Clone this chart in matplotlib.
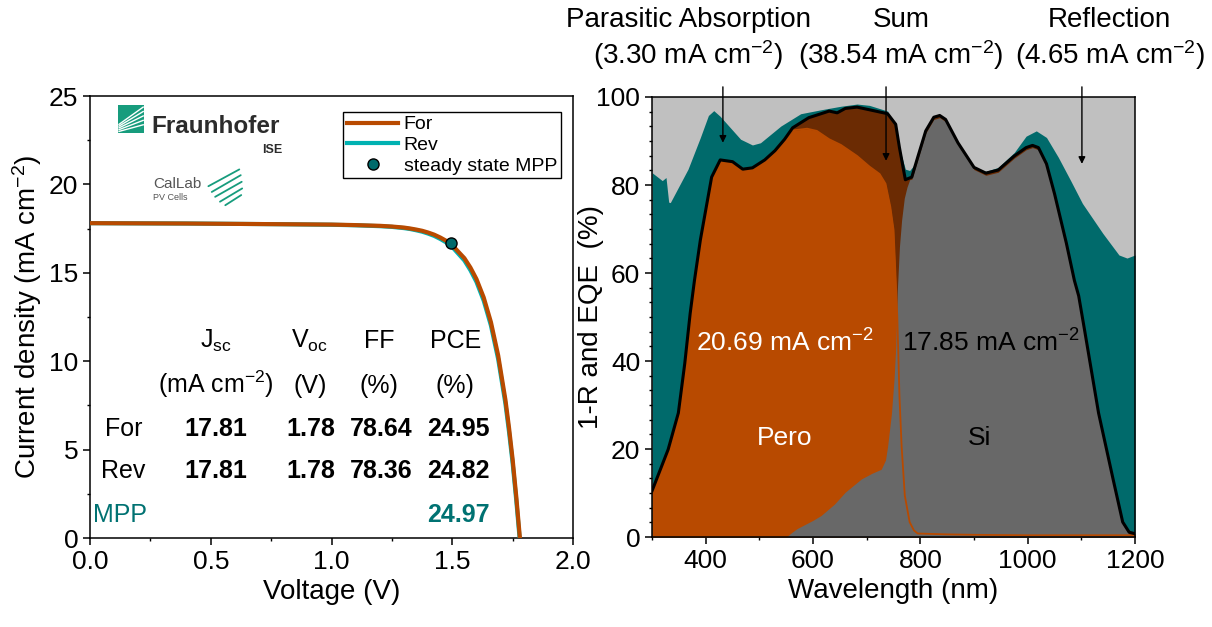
import matplotlib
matplotlib.use('Agg')
import matplotlib.pyplot as plt
from matplotlib.patches import Rectangle
from matplotlib.ticker import MultipleLocator, FormatStrFormatter

# J-V scans
volt = [0.0, 0.2, 0.4, 0.6, 0.8, 1.0, 1.1, 1.2, 1.25, 1.3, 1.325, 1.35, 1.375,
        1.4, 1.425, 1.45, 1.475, 1.5, 1.55, 1.575, 1.6, 1.63, 1.66, 1.69,
        1.72, 1.735, 1.75, 1.765, 1.78]
j_for = [17.81, 17.80, 17.79, 17.77, 17.75, 17.73, 17.70, 17.66, 17.62, 17.56,
         17.51, 17.45, 17.38, 17.28, 17.16, 17.00, 16.81, 16.56, 15.83, 15.30,
         14.65, 13.61, 12.21, 10.33, 7.82, 6.23, 4.43, 2.33, 0.0]
j_rev = [17.81, 17.80, 17.79, 17.77, 17.75, 17.72, 17.69, 17.64, 17.60, 17.53,
         17.48, 17.41, 17.33, 17.22, 17.09, 16.92, 16.72, 16.46, 15.70, 15.15,
         14.49, 13.43, 12.02, 10.12, 7.60, 6.00, 4.22, 2.12, -0.2]
mpp_v = [1.494]
mpp_j = [16.70]

# table
rows = ["For", "Rev"]
jsc = ["17.81", "17.81"]
voc = ["1.78", "1.78"]
ff = ["78.64", "78.36"]
pce = ["24.95", "24.82"]
pce_mpp = "24.97"

# EQE / reflection
wl_r = [300, 319, 326, 331, 334, 367, 390, 405, 415, 427, 465, 487, 502, 540,
        577, 615, 652, 682, 705, 739, 757, 772, 780, 795, 817, 832, 847, 870,
        900, 922, 945, 975, 997, 1016, 1035, 1057, 1080, 1102, 1140, 1170,
        1185, 1200]
one_minus_r = [82.8, 81.0, 81.7, 76.1, 76.0, 83.6, 90.8, 95.8, 96.9, 95.6,
               90.4, 89.1, 89.6, 93.4, 96.2, 97.1, 97.9, 98.4, 98.1, 96.8, 90.0,
               83.6, 83.3, 85.5, 93.0, 95.8, 94.9, 89.6, 84.0, 83.1, 84.0, 87.4,
               91.1, 92.3, 90.8, 86.3, 81.0, 75.8, 69.0, 64.1, 63.4, 64.1]

wl_sum = [300, 330, 349, 361, 371, 379, 390, 411, 427, 450, 469, 487, 510, 529,
          547, 562, 592, 630, 645, 660, 682, 705, 739, 754, 761, 772, 784, 795,
          810, 825, 836, 847, 870, 900, 922, 945, 975, 997, 1009, 1020, 1035,
          1050, 1072, 1087, 1095, 1106, 1132, 1159, 1177, 1189, 1200]
eqe_sum = [10.5, 19.9, 28.2, 39.5, 50.8, 58.3, 67.5, 81.8, 85.7, 85.3, 83.6,
           83.9, 85.7, 87.8, 90.4, 93.0, 95.3, 96.8, 96.4, 97.4, 97.7, 97.1,
           96.2, 93.8, 88.5, 81.2, 81.8, 86.3, 92.3, 95.4, 95.8, 94.9, 89.6,
           84.0, 82.7, 83.4, 86.6, 88.5, 89.0, 88.5, 84.8, 78.0, 66.8, 58.3,
           54.8, 47.0, 28.2, 13.2, 3.4, 1.1, 0.75]

wl_pero = [300, 330, 349, 361, 371, 379, 390, 411, 427, 450, 469, 487, 510,
           529, 547, 562, 589, 607, 630, 652, 682, 705, 724, 735, 744, 750,
           754, 757, 761, 765, 771, 780, 788, 795, 850, 900, 1000, 1100, 1200]
eqe_pero = [10.5, 19.9, 28.2, 39.5, 50.8, 58.3, 67.5, 81.8, 85.7, 85.3, 83.6,
            83.9, 85.7, 87.8, 90.4, 92.4, 92.8, 92.3, 90.4, 89.1, 86.6, 84.2,
            82.5, 80.3, 75.0, 69.8, 58.5, 50.0, 32.0, 20.7, 9.4, 3.4, 1.5, 0.8,
            0.6, 0.5, 0.4, 0.4, 0.4]

wl_si = [300, 550, 560, 570, 600, 615, 640, 660, 690, 710, 727, 735, 739, 746,
         751, 754, 757, 761, 765, 770, 775, 780, 784, 795, 810, 825, 836, 847,
         870, 900, 922, 945, 975, 997, 1009, 1020, 1035, 1050, 1072, 1087,
         1095, 1106, 1132, 1159, 1177, 1189, 1200]
eqe_si = [0.0, 0.0, 1.0, 1.9, 3.8, 4.9, 7.5, 10.2, 13.2, 14.5, 15.4, 17.5, 20.7,
          28.0, 36.0, 43.0, 56.0, 66.0, 72.0, 77.0, 79.5, 81.2, 81.3, 85.7,
          91.8, 94.9, 95.3, 94.4, 89.1, 83.5, 82.2, 82.9, 86.1, 88.0, 88.5,
          88.0, 84.3, 77.5, 66.3, 57.8, 54.3, 46.5, 27.7, 12.7, 2.9, 0.6, 0.3]

ORANGE = '#B84A00'
CYAN = '#00B2B2'
TEAL = '#006A6B'
BROWN = '#6B2B03'
SI_GRAY = '#686868'
R_GRAY = '#C0C0C0'
LOGO_GREEN = '#179C7D'


def style_axis(ax):
    for s in ax.spines.values():
        s.set_linewidth(1.1)
    ax.tick_params(which='major', direction='out', length=5, width=1.1,
                   top=False, right=False)
    ax.tick_params(which='minor', direction='out', length=2.5, width=1.0,
                   top=False, right=False)


def draw_logo(ax):
    ax.add_patch(Rectangle((0.058, 0.916), 0.054, 0.064, transform=ax.transAxes,
                           facecolor=LOGO_GREEN, edgecolor='none', zorder=5))
    for k in range(5):
        ax.plot([0.060, 0.110], [0.920 + 0.004 * k, 0.935 + 0.010 * k],
                color='white', lw=1.0, transform=ax.transAxes, zorder=6)
    ax.text(0.128, 0.916, "Fraunhofer", transform=ax.transAxes, fontsize=17.5,
            fontweight='bold', color='#2b2b2b', ha='left', va='baseline')
    ax.text(0.398, 0.871, "ISE", transform=ax.transAxes, fontsize=9,
            fontweight='bold', color='#2b2b2b', ha='right', va='baseline')
    ax.text(0.130, 0.792, "CalLab", transform=ax.transAxes, fontsize=11,
            color='#555555', ha='left', va='baseline')
    ax.text(0.130, 0.765, "PV Cells", transform=ax.transAxes, fontsize=6.5,
            color='#555555', ha='left', va='baseline')
    # fan of strokes next to CalLab
    fan = [((0.245, 0.796), (0.309, 0.834)),
           ((0.252, 0.783), (0.312, 0.821)),
           ((0.259, 0.772), (0.314, 0.806)),
           ((0.269, 0.761), (0.315, 0.791)),
           ((0.280, 0.753), (0.313, 0.776))]
    for (x0, y0), (x1, y1) in fan:
        ax.plot([x0, x1], [y0, y1], color=LOGO_GREEN, lw=1.3,
                transform=ax.transAxes, solid_capstyle='round')


def plot_jv(ax):
    ax.plot(volt, j_rev, color=CYAN, lw=3.0, label='Rev', zorder=3)
    ax.plot(volt, j_for, color=ORANGE, lw=3.0, label='For', zorder=4)
    ax.plot(mpp_v, mpp_j, 'o', color=TEAL, mec='black', mew=1.0, ms=8,
            label='steady state MPP', zorder=5)

    ax.set_xlim(0, 2.0)
    ax.set_ylim(0, 25)
    ax.xaxis.set_major_locator(MultipleLocator(0.5))
    ax.xaxis.set_minor_locator(MultipleLocator(0.25))
    ax.xaxis.set_major_formatter(FormatStrFormatter('%.1f'))
    ax.yaxis.set_major_locator(MultipleLocator(5))
    ax.yaxis.set_minor_locator(MultipleLocator(2.5))
    ax.set_xlabel("Voltage (V)")
    ax.set_ylabel("Current density (mA cm$^{-2}$)")
    ax.yaxis.set_label_coords(-0.095, 0.5)
    style_axis(ax)

    h, l = ax.get_legend_handles_labels()
    leg = ax.legend([h[1], h[0], h[2]], [l[1], l[0], l[2]], loc='upper right',
                    bbox_to_anchor=(0.975, 0.964), borderaxespad=0,
                    fontsize=14, fancybox=False, framealpha=1,
                    edgecolor='black', handlelength=2.6, labelspacing=0.15,
                    borderpad=0.2, handletextpad=0.3)
    leg.get_frame().set_linewidth(1.0)

    fs = 18
    col_x = [0.52, 0.91, 1.196, 1.513]
    ax.text(col_x[0], 10.75, "J$_{\\rm sc}$", ha='center', fontsize=fs)
    ax.text(col_x[1], 10.75, "V$_{\\rm oc}$", ha='center', fontsize=fs)
    ax.text(col_x[2], 10.75, "FF", ha='center', fontsize=fs)
    ax.text(col_x[3], 10.75, "PCE", ha='center', fontsize=fs)
    ax.text(col_x[0], 8.2, "(mA cm$^{-2}$)", ha='center', fontsize=fs)
    ax.text(col_x[1], 8.2, "(V)", ha='center', fontsize=fs)
    ax.text(col_x[2], 8.2, "(%)", ha='center', fontsize=fs)
    ax.text(col_x[3], 8.2, "(%)", ha='center', fontsize=fs)
    for i, y in enumerate([5.77, 3.39]):
        ax.text(0.138, y, rows[i], ha='center', fontsize=fs)
        ax.text(0.52, y, jsc[i], ha='center', fontsize=fs, fontweight='bold')
        ax.text(0.913, y, voc[i], ha='center', fontsize=fs, fontweight='bold')
        ax.text(1.205, y, ff[i], ha='center', fontsize=fs, fontweight='bold')
        ax.text(1.524, y, pce[i], ha='center', fontsize=fs, fontweight='bold')
    ax.text(0.013, 0.9, "MPP", ha='left', fontsize=fs, color='#007272')
    ax.text(1.524, 0.9, pce_mpp, ha='center', fontsize=fs, fontweight='bold',
            color='#007272')

    draw_logo(ax)


def plot_eqe(ax):
    ax.set_facecolor(R_GRAY)
    ax.fill_between(wl_r, 0, one_minus_r, color=TEAL, lw=0, zorder=1)
    ax.fill_between(wl_sum, 0, eqe_sum, color=BROWN, lw=0, zorder=2)
    ax.fill_between(wl_pero, 0, eqe_pero, color=ORANGE, lw=0, zorder=3)
    ax.fill_between(wl_si, 0, eqe_si, color=SI_GRAY, lw=0, zorder=4)
    ax.plot(wl_pero, eqe_pero, color=ORANGE, lw=1.3, zorder=5)
    ax.plot(wl_sum, eqe_sum, color='black', lw=2.2, zorder=6)

    ax.set_xlim(300, 1200)
    ax.set_ylim(0, 100)
    ax.xaxis.set_major_locator(MultipleLocator(200))
    ax.xaxis.set_minor_locator(MultipleLocator(100))
    ax.yaxis.set_major_locator(MultipleLocator(20))
    ax.yaxis.set_minor_locator(MultipleLocator(20 / 6))
    ax.set_xticks([400, 600, 800, 1000, 1200])
    ax.set_xlabel("Wavelength (nm)")
    ax.set_ylabel("1-R and EQE  (%)")
    ax.yaxis.set_label_coords(-0.099, 0.5)
    style_axis(ax)
    for s in ax.spines.values():
        s.set_zorder(10)

    fs = 19
    ax.text(548, 44, "20.69 mA cm$^{-2}$", color='white', ha='center',
            va='center', fontsize=fs, zorder=8)
    ax.text(931, 44, "17.85 mA cm$^{-2}$", color='black', ha='center',
            va='center', fontsize=fs, zorder=8)
    ax.text(547, 22.6, "Pero", color='white', ha='center', va='center',
            fontsize=fs, zorder=8)
    ax.text(911, 22.6, "Si", color='black', ha='center', va='center',
            fontsize=fs, zorder=8)

    for x, tip in [(432, 89.6), (736, 85.5), (1101, 84.8)]:
        ax.annotate("", xy=(x, tip), xytext=(x, 102.3), annotation_clip=False,
                    arrowprops=dict(arrowstyle='-|>', color='black', lw=1.0,
                                    mutation_scale=10, shrinkA=0, shrinkB=0),
                    zorder=9)


def main():
    plt.rcParams.update({
        'font.family': ['Liberation Sans', 'DejaVu Sans'],
        'mathtext.fontset': 'custom',
        'mathtext.rm': 'Liberation Sans',
        'mathtext.it': 'Liberation Sans:italic',
        'mathtext.bf': 'Liberation Sans:bold',
        'font.size': 19,
        'axes.labelsize': 20,
        'xtick.labelsize': 19,
        'ytick.labelsize': 19,
    })
    fig = plt.figure(figsize=(12.12, 6.27), dpi=100)
    ax1 = fig.add_axes([0.0743, 0.1419, 0.3985, 0.7049])
    ax2 = fig.add_axes([0.538, 0.1435, 0.3985, 0.7018])

    plot_jv(ax1)
    plot_eqe(ax2)

    fs = 20
    fig.text(0.5677, 0.957, "Parasitic Absorption", ha='center', fontsize=fs)
    fig.text(0.5677, 0.898, "(3.30 mA cm$^{-2}$)", ha='center', fontsize=fs)
    fig.text(0.7434, 0.957, "Sum", ha='center', fontsize=fs)
    fig.text(0.7434, 0.898, "(38.54 mA cm$^{-2}$)", ha='center', fontsize=fs)
    fig.text(0.9155, 0.957, "Reflection", ha='center', fontsize=fs)
    fig.text(0.9155, 0.898, "(4.65 mA cm$^{-2}$)", ha='center', fontsize=fs)

    fig.savefig("out.png", dpi=100)


if __name__ == '__main__':
    main()
